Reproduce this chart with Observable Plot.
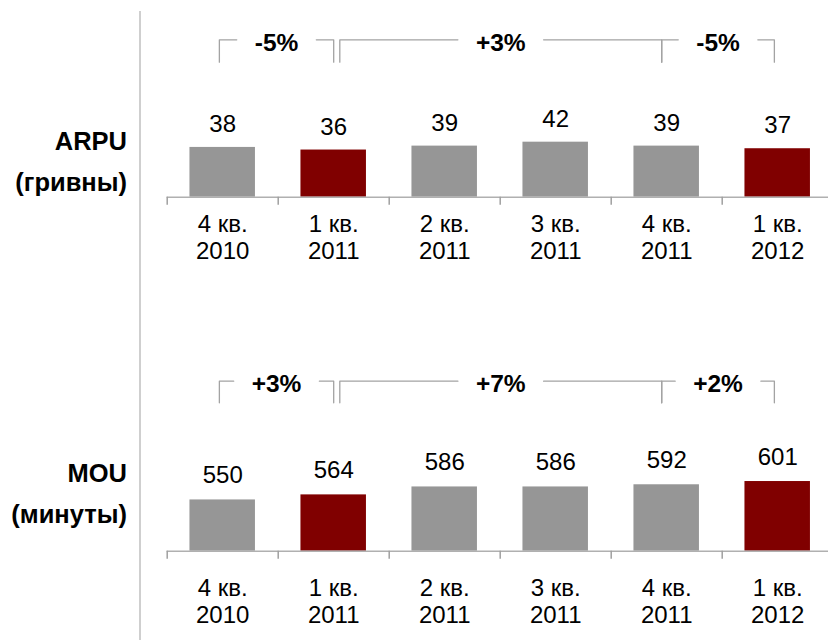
<!DOCTYPE html>
<html><head><meta charset="utf-8">
<script src="https://cdn.jsdelivr.net/npm/d3@7"></script>
<script src="https://cdn.jsdelivr.net/npm/@observablehq/plot@0.6"></script>
<style>
body{margin:0;background:#fff;}
#wrap{position:relative;width:828px;height:640px;overflow:hidden;font-family:"Liberation Sans",Arial,sans-serif;background:#fff;}
.panel{position:absolute;left:0;width:828px;height:320px;}
.lab{position:absolute;left:0;width:127px;text-align:right;font-weight:bold;font-size:25.5px;line-height:41px;color:#000;}
#sep{position:absolute;left:139px;top:11px;width:1.5px;height:629px;background:#cfcfcf;}
</style></head>
<body><div id="wrap"><div id="sep"></div></div>
<script>
const quarters = ["4 кв.\n2010","1 кв.\n2011","2 кв.\n2011","3 кв.\n2011","4 кв.\n2011","1 кв.\n2012"];
const highlighted = ["1 кв.\n2011","1 кв.\n2012"];
const arpuValues = [38,36,39,42,39,37];
const mouValues = [550,564,586,586,592,601];
const arpuChanges = [
  {from:"4 кв.\n2010", to:"1 кв.\n2011", label:"-5%"},
  {from:"1 кв.\n2011", to:"4 кв.\n2011", label:"+3%"},
  {from:"4 кв.\n2011", to:"1 кв.\n2012", label:"-5%"}
];
const mouChanges = [
  {from:"4 кв.\n2010", to:"1 кв.\n2011", label:"+3%"},
  {from:"1 кв.\n2011", to:"4 кв.\n2011", label:"+7%"},
  {from:"4 кв.\n2011", to:"1 кв.\n2012", label:"+2%"}
];
const titles = [["ARPU","(гривны)"],["MOU","(минуты)"]];

const GRAY = "#969696", RED = "#800000";
const FONT = "'Liberation Sans', Arial, sans-serif";
const STEP = 111; // px per category step (x range / domain)
const ctx = document.createElement("canvas").getContext("2d");
ctx.font = "bold 24.5px 'Liberation Sans', Arial, sans-serif";

function panel(values, changes, cfg) {
  const data = quarters.map((q, i) => ({q, i, v: values[i], hi: highlighted.includes(q)}));
  const toY = px => cfg.y0 + (cfg.baseline - px) / cfg.ppu;
  const yT = toY(cfg.bracketTop), yB = toY(cfg.bracketBottom), yTick = toY(cfg.baseline + 8);
  const bw = 0.59;
  const rows = [], labels = [];
  changes.forEach((c, k) => {
    const fi = quarters.indexOf(c.from), ti = quarters.indexOf(c.to);
    const sharesStart = k > 0 && changes[k - 1].to === c.from;
    const a = fi + (sharesStart && ti - fi > 1 ? 0.055 : sharesStart ? -0.045 : -0.03);
    const b = ti - (ti - fi > 1 ? 0.045 : k === 0 ? 0 : 0.03);
    const m = (a + b) / 2;
    const gap = (ctx.measureText(c.label).width / 2 + 18) / STEP;
    [[a, yB], [a, yT], [m - gap, yT]].forEach(([x, y]) => rows.push({z: k + "L", x, y}));
    [[m + gap, yT], [b, yT], [b, yB]].forEach(([x, y]) => rows.push({z: k + "R", x, y}));
    labels.push({x: m, label: c.label});
  });
  return Plot.plot({
    width: 828, height: 320,
    marginLeft: 166.7, marginRight: 0, marginTop: 0, marginBottom: 0,
    style: {fontFamily: FONT, background: "transparent", color: "#000"},
    x: {type: "linear", domain: [-0.5, 5.5], range: [166.7, 166.7 + 6 * STEP], axis: null},
    y: {domain: [cfg.y0, cfg.y0 + 100], range: [cfg.baseline, cfg.baseline - 100 * cfg.ppu], axis: null},
    marks: [
      Plot.rectY(data, {x1: d => d.i - bw / 2, x2: d => d.i + bw / 2, y1: cfg.y0, y2: "v", fill: d => d.hi ? RED : GRAY}),
      Plot.ruleY([cfg.y0], {stroke: "#b0b0b0", strokeWidth: 1.5}),
      Plot.ruleX(data, {x: d => d.i - 0.5, y1: cfg.y0, y2: yTick, stroke: "#a0a0a0", strokeWidth: 1.5}),
      Plot.text(data, {x: "i", y: cfg.y0, text: "q", lineAnchor: "top", dy: cfg.tickDy, fontSize: 24, lineHeight: 1.1, fill: "#000"}),
      Plot.text(data, {x: "i", y: "v", text: d => String(d.v), lineAnchor: "bottom", dy: cfg.valDy, fontSize: 24, fill: "#000"}),
      Plot.line(rows, {x: "x", y: "y", z: "z", stroke: "#a3a3a3", strokeWidth: 1.3}),
      Plot.text(labels, {x: "x", y: yT, text: "label", lineAnchor: "bottom", dy: 10.8, fontSize: 24.5, fontWeight: "bold", fill: "#000"})
    ]
  });
}

const wrap = document.getElementById("wrap");
const cfgs = [
  {top: 0, baseline: 196.7, y0: 0, ppu: 1.31, bracketTop: 39.3, bracketBottom: 61.7, tickDy: 16.3, valDy: -15.5, labTop: 120.7},
  {top: 320, baseline: 230.7, y0: 408, ppu: 0.361, bracketTop: 60.7, bracketBottom: 82.3, tickDy: 26.3, valDy: -16.5, labTop: 452.7}
];
[[arpuValues, arpuChanges], [mouValues, mouChanges]].forEach(([vals, ch], k) => {
  const cfg = cfgs[k];
  const div = document.createElement("div");
  div.className = "panel";
  div.style.top = cfg.top + "px";
  div.appendChild(panel(vals, ch, cfg));
  wrap.appendChild(div);
  const lab = document.createElement("div");
  lab.className = "lab";
  lab.style.top = cfg.labTop + "px";
  lab.innerHTML = titles[k].join("<br>");
  wrap.appendChild(lab);
});
</script>
</body></html>
